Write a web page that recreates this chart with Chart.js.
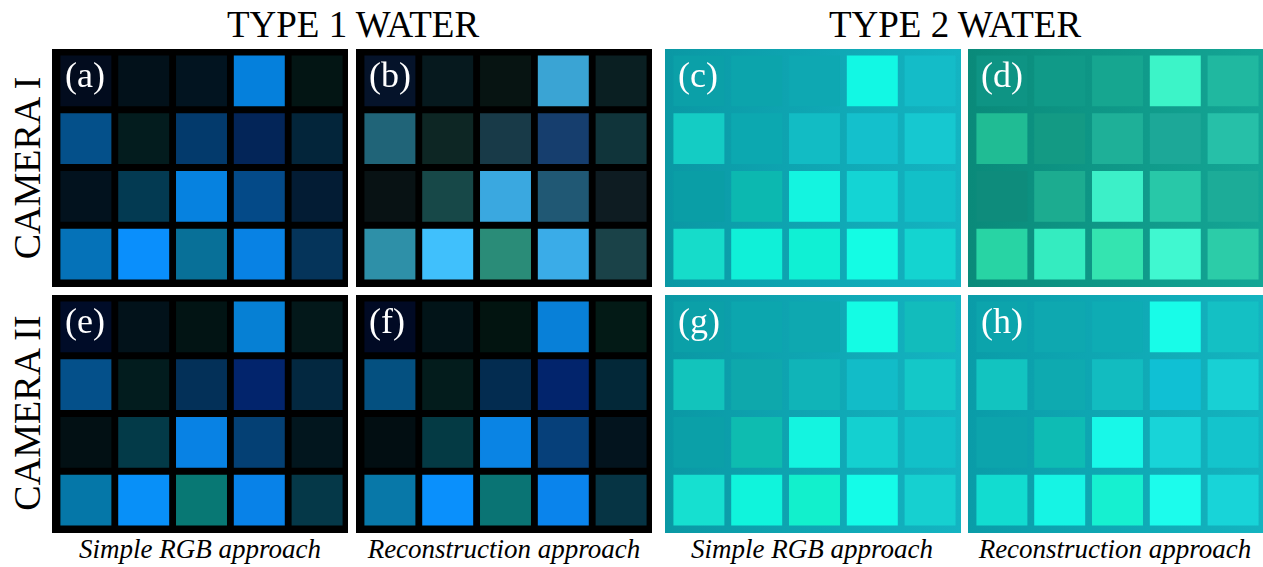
<!DOCTYPE html>
<html>
<head>
<meta charset="utf-8">
<script src="https://cdn.jsdelivr.net/npm/chart.js@4/dist/chart.umd.min.js"></script>
<style>
  body { margin: 0; background: #fff; }
  #page { position: relative; width: 1263px; height: 567px; overflow: hidden; font-family: "Liberation Serif", serif; }
  .panel { position: absolute; width: 296px; height: 238px; }
  .panel canvas { position: absolute; left: 0; top: 0; }
  .tag { position: absolute; left: 13px; top: 8px; color: #fff; font-size: 36px; line-height: 36px; }
  .title { position: absolute; top: 6px; width: 400px; text-align: center; font-size: 37px; line-height: 37px; color: #000; }
  .side { position: absolute; width: 300px; text-align: center; font-size: 38px; line-height: 38px; transform: rotate(-90deg); }
  .cap { position: absolute; top: 534px; width: 340px; text-align: center; font-size: 27px; line-height: 30px; font-style: italic; }
</style>
</head>
<body>
<div id="page">
  <div class="title" style="left:153px">TYPE 1 WATER</div>
  <div class="title" style="left:755px">TYPE 2 WATER</div>
  <div class="side" style="left:-123px; top:149px">CAMERA I</div>
  <div class="side" style="left:-123px; top:394px">CAMERA II</div>
  <div class="cap" style="left:30px">Simple RGB approach</div>
  <div class="cap" style="left:334px">Reconstruction approach</div>
  <div class="cap" style="left:642px">Simple RGB approach</div>
  <div class="cap" style="left:945px">Reconstruction approach</div>
</div>
<script>
// patch grid: 5 columns x 4 rows per panel
const columns = ['1', '2', '3', '4', '5'];
const rowNames = ['row 1', 'row 2', 'row 3', 'row 4'];

// colours, row by row
const panelA = [
  ['#020c1e', '#02111a', '#021420', '#0580dc', '#031514'],
  ['#04508a', '#031c1e', '#033a6c', '#032558', '#03253a'],
  ['#02121e', '#033a52', '#0682e0', '#044a88', '#031c34'],
  ['#0572b8', '#0a8ffc', '#087098', '#0882e4', '#05345a']
];
const panelB = [
  ['#05132a', '#06191e', '#071412', '#3aa4d4', '#0a1f22'],
  ['#206478', '#0d2624', '#183a48', '#163e6e', '#10343a'],
  ['#081214', '#174848', '#3aa8e0', '#205874', '#0e1c22'],
  ['#2e90a8', '#40c0fc', '#2a8c78', '#3aace8', '#1a4248']
];
const panelC = [
  ['#0ba0a8', '#0ca4ac', '#0ea8b2', '#12f8e4', '#14bcc8'],
  ['#14ccc4', '#0ca8b0', '#12bcc4', '#14c0cc', '#16c8d0'],
  ['#0a9ea6', '#0cb8b0', '#14f4e0', '#14d4d4', '#12c0c8'],
  ['#16dcca', '#10f0d8', '#10f0d4', '#14fce4', '#14d4d0']
];
const panelD = [
  ['#0e9484', '#109a88', '#16a690', '#3cf4c8', '#20b8a0'],
  ['#20bc94', '#139a84', '#1eb098', '#1ca898', '#26c0a8'],
  ['#0e8c7c', '#1cac90', '#3cf0c8', '#28c8a8', '#1cac98'],
  ['#28d4a4', '#34ecc0', '#34e4b0', '#40f8d0', '#2ccca8']
];
const panelE = [
  ['#000c28', '#02121a', '#021414', '#0680d4', '#03181a'],
  ['#04508a', '#021c1e', '#033058', '#02246c', '#032840'],
  ['#021014', '#033a48', '#0882e4', '#044074', '#02161e'],
  ['#0577a8', '#0890f8', '#087874', '#0882e8', '#053848']
];
const panelF = [
  ['#010a24', '#021418', '#021410', '#0880d8', '#031a16'],
  ['#045080', '#031c1c', '#032c50', '#02246c', '#032838'],
  ['#020e12', '#043a44', '#0a84e4', '#06407a', '#03141e'],
  ['#0878a8', '#0a90fc', '#0a7474', '#0a84ec', '#063444']
];
const panelG = [
  ['#0ba0a8', '#0ca6ae', '#0ea8b0', '#14fce4', '#12bcbc'],
  ['#12c4bc', '#0ea8ac', '#10b4b8', '#12bcc8', '#14c8c8'],
  ['#0ba0a8', '#0ebcb0', '#14f4e0', '#14d0d0', '#12c0c8'],
  ['#16e0d0', '#10f4dc', '#12f0cc', '#14fce8', '#16d0d0']
];
const panelH = [
  ['#0ca4ac', '#0ea8b0', '#0eacb4', '#18fce8', '#14c0c4'],
  ['#12c4c0', '#0eaab0', '#12bcc0', '#10c0d4', '#18d0d4'],
  ['#0ca4ac', '#0ebcb4', '#18f8e8', '#18d4d8', '#14c4cc'],
  ['#12dcd0', '#16f4e4', '#16f0d0', '#1cfcec', '#18d4d8']
];

const panels = [
  { id: 'a', x: 52,  y: 49,  cells: panelA, bg: ['#000000', '#000000'] },
  { id: 'b', x: 356, y: 49,  cells: panelB, bg: ['#000000', '#000000'] },
  { id: 'c', x: 665, y: 49,  cells: panelC, bg: ['#0a98a4', '#14b4c2'] },
  { id: 'd', x: 968, y: 49,  cells: panelD, bg: ['#0a8a7a', '#14a696'] },
  { id: 'e', x: 52,  y: 295, cells: panelE, bg: ['#000000', '#000000'] },
  { id: 'f', x: 356, y: 295, cells: panelF, bg: ['#000000', '#000000'] },
  { id: 'g', x: 665, y: 295, cells: panelG, bg: ['#0a98a4', '#14b4c2'] },
  { id: 'h', x: 968, y: 295, cells: panelH, bg: ['#0a9ca8', '#14b4c0'] }
];

const panelFill = {
  id: 'panelFill',
  beforeDraw(chart, args, opts) {
    const c = chart.ctx;
    const g = c.createLinearGradient(0, 0, chart.width, 0);
    g.addColorStop(0, opts.from);
    g.addColorStop(1, opts.to);
    c.save();
    c.fillStyle = g;
    c.fillRect(0, 0, chart.width, chart.height);
    c.restore();
  }
};

const page = document.getElementById('page');

for (const p of panels) {
  const box = document.createElement('div');
  box.className = 'panel';
  box.style.left = p.x + 'px';
  box.style.top = p.y + 'px';
  const cv = document.createElement('canvas');
  box.appendChild(cv);
  const tag = document.createElement('div');
  tag.className = 'tag';
  tag.textContent = '(' + p.id + ')';
  box.appendChild(tag);
  page.appendChild(box);

  const datasets = p.cells.map((rowColours, r) => ({
    label: rowNames[r],
    data: columns.map(() => [r + 0.059, r + 0.941]),
    backgroundColor: rowColours,
    borderWidth: 0,
    grouped: false,
    categoryPercentage: 1,
    barPercentage: 0.882
  }));

  new Chart(cv, {
    type: 'bar',
    data: { labels: columns, datasets: datasets },
    options: {
      responsive: true,
      maintainAspectRatio: false,
      animation: false,
      layout: { padding: { left: 5, right: 2, top: 3, bottom: 4 } },
      scales: {
        x: { display: false },
        y: { display: false, min: 0, max: 4, reverse: true }
      },
      plugins: {
        legend: { display: false },
        tooltip: { enabled: false },
        panelFill: { from: p.bg[0], to: p.bg[1] }
      }
    },
    plugins: [panelFill]
  });
}
</script>
</body>
</html>
